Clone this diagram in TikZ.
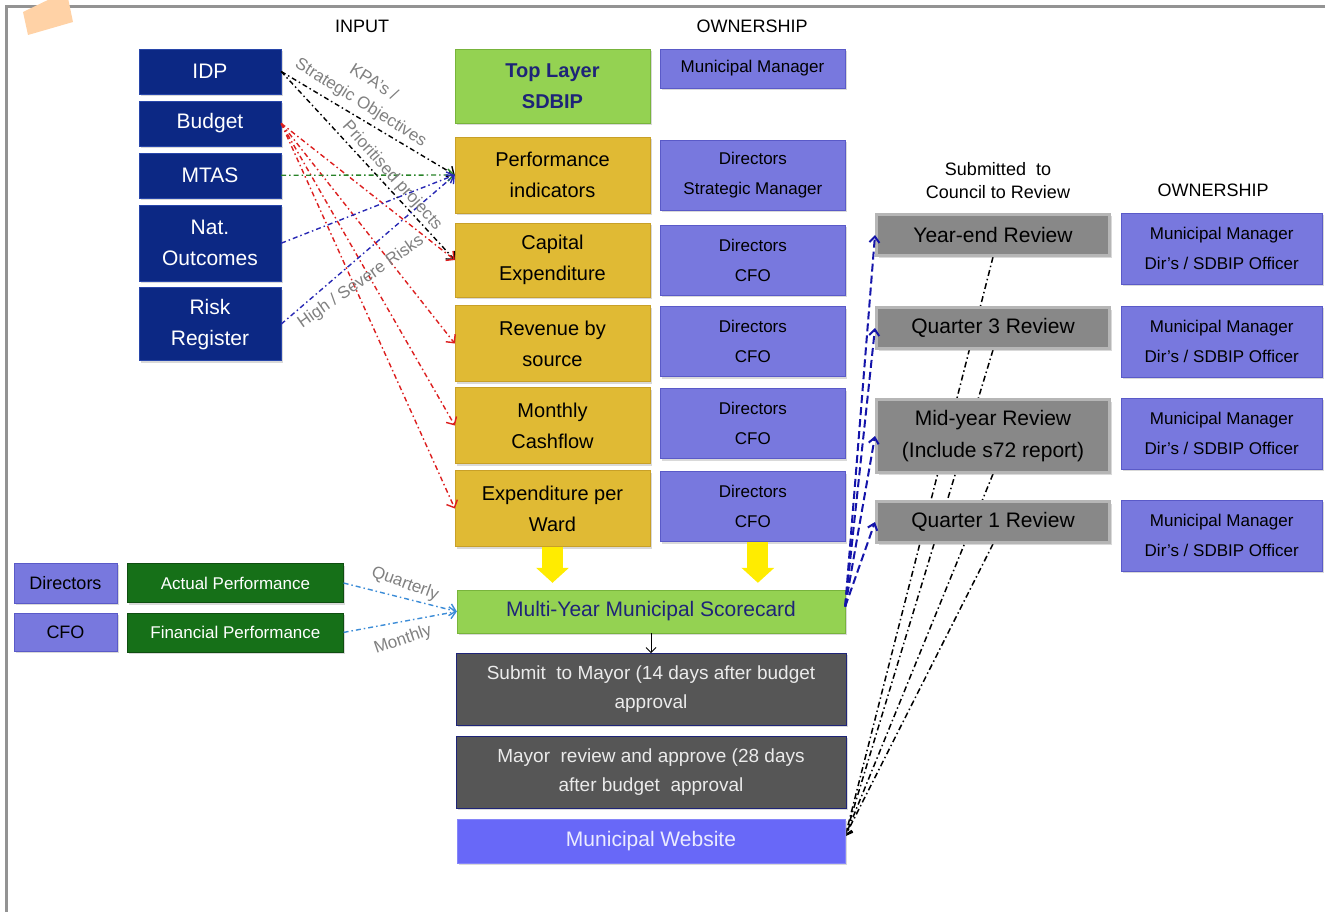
\documentclass[tikz,border=0pt]{standalone}
\usepackage{fontspec}
\setmainfont{Liberation Sans}
\usepackage{xcolor}
\usepackage{tikz}
\usetikzlibrary{positioning,arrows.meta,calc,shadows,backgrounds}
\newcommand{\pxfont}[2]{\fontsize{#1}{#2}\selectfont}

\definecolor{navybox}{RGB}{12,40,132}
\definecolor{navyedge}{RGB}{40,70,170}
\definecolor{goldbox}{RGB}{224,186,52}
\definecolor{goldedge}{RGB}{200,160,40}
\definecolor{ownfill}{RGB}{120,120,222}
\definecolor{ownedge}{RGB}{90,90,200}
\definecolor{limebox}{RGB}{148,210,82}
\definecolor{limeedge}{RGB}{120,180,60}
\definecolor{revfill}{RGB}{136,136,136}
\definecolor{revedge}{RGB}{182,182,182}
\definecolor{actgreen}{RGB}{22,112,24}
\definecolor{mayorgray}{RGB}{86,86,86}
\definecolor{webblue}{RGB}{104,104,248}
\definecolor{labgray}{RGB}{128,128,128}
\definecolor{textnavy}{RGB}{30,36,120}
\definecolor{arrred}{RGB}{220,30,30}
\definecolor{arrgreen}{RGB}{40,130,40}
\definecolor{arrblue}{RGB}{40,40,180}
\definecolor{arrlight}{RGB}{60,140,215}
\definecolor{revarr}{RGB}{20,20,170}
\definecolor{fatyellow}{RGB}{255,236,0}

\begin{document}
\begin{tikzpicture}[
    x=1pt, y=-1pt,
    node distance=7pt and 10pt,
    box/.style={align=center, inner sep=2pt, drop shadow={opacity=0.3, shadow xshift=2pt, shadow yshift=-2pt}},
    inbox/.style={box, fill=navybox, draw=navyedge, text=white, minimum width=142pt, minimum height=45pt, font=\pxfont{21}{31}},
    goldbx/.style={box, fill=goldbox, draw=goldedge, minimum width=195pt, minimum height=76pt, font=\pxfont{20}{31}},
    topbox/.style={box, fill=limebox, draw=limeedge, text=textnavy, minimum width=195pt, minimum height=74pt, font=\pxfont{20}{31}\bfseries},
    ownbox/.style={box, fill=ownfill, draw=ownedge, minimum width=185pt, minimum height=70pt, font=\pxfont{17}{30}},
    ownbox2/.style={box, fill=ownfill, draw=ownedge, minimum width=201pt, minimum height=71pt, font=\pxfont{17}{30}},
    revbox/.style={box, fill=revfill, draw=revedge, line width=3pt, minimum width=233pt, minimum height=41pt, font=\pxfont{21}{32}},
    actbox/.style={box, fill=actgreen, draw=actgreen!70!black, text=white, minimum width=216pt, minimum height=39pt, font=\pxfont{17}{22}},
    scorebox/.style={box, fill=limebox, draw=limeedge, text=textnavy, minimum width=388pt, minimum height=43pt, font=\pxfont{21}{26}},
    mayorbox/.style={box, fill=mayorgray, draw=textnavy, text=white!92!black, minimum width=390pt, minimum height=72pt, font=\pxfont{19}{29}},
    webbox/.style={box, fill=webblue, draw=webblue!80!white, text=white!92!blue, minimum width=388pt, minimum height=44pt, font=\pxfont{21}{26}},
    head/.style={align=center, font=\pxfont{18}{23}},
    lbl/.style={align=center, text=labgray, font=\pxfont{17}{24}},
    inarr/.style={-{Straight Barb[length=6pt,width=12pt]}, line width=1.4pt, dash pattern=on 5pt off 3pt on 1.5pt off 3pt},
    perfarr/.style={inarr, line width=1.4pt, arrlight},
    revarrow/.style={-{Straight Barb[length=6pt,width=10pt]}, line width=2pt, dash pattern=on 8pt off 4pt, revarr},
    webarr/.style={-{Straight Barb[length=6pt,width=10pt]}, line width=1.5pt, dash pattern=on 6pt off 3pt on 1.5pt off 3pt},
    fatarr/.style={-{Triangle[width=32pt,length=15pt]}, line width=21pt, fatyellow, shorten >=7pt},
    frame/.style={draw=gray!85, line width=3pt}
]
\useasboundingbox (0,0) rectangle (1325,912);

% frame and corner mark
\draw[frame] (6,912) -- (6,7) -- (1325,7);
\fill[orange!35] (23,12) -- (28,35) -- (73,22) -- (68,-2) -- (52,-2) -- cycle;

% Headings
\node[head] (hinput) at (362,26) {INPUT};
\node[head] (hown) at (752,26) {OWNERSHIP};
\node[head] (hcouncil) at (998,181) {Submitted~ to\\Council to Review};
\node[head] (hown2) at (1213,190) {OWNERSHIP};

% Input column
\node[inbox] (idp) at (210,71.5) {IDP};
\node[inbox, below=6.5pt of idp] (budget) {Budget};
\node[inbox, below=6.5pt of budget] (mtas) {MTAS};
\node[inbox, minimum height=76pt, below=7pt of mtas] (natout) {Nat.\\Outcomes};
\node[inbox, minimum height=73pt, below=6pt of natout] (risk) {Risk\\Register};

% SDBIP column
\node[topbox] (toplayer) at (552.5,86) {Top Layer\\SDBIP};
\node[goldbx] (perf) at (552.5,175) {Performance\\indicators};
\node[goldbx, minimum height=74pt] (capex) at (552.5,260) {Capital\\Expenditure};
\node[goldbx] (revenue) at (552.5,343.5) {Revenue by\\source};
\node[goldbx] (cashflow) at (552.5,425.5) {Monthly\\Cashflow};
\node[goldbx] (perward) at (552.5,508.5) {Expenditure per\\Ward};

% Ownership column
\node[ownbox, minimum height=39pt] (ownmm) at (752.5,68.5) {Municipal Manager};
\node[ownbox, right=10pt of perf] (ownperf) {Directors\\Strategic Manager};
\node[ownbox, right=10pt of capex] (owncap) {Directors\\CFO};
\node[ownbox, right=10pt of revenue, yshift=2pt] (ownrev) {Directors\\CFO};
\node[ownbox, right=10pt of cashflow, yshift=2pt] (owncash) {Directors\\CFO};
\node[ownbox, right=10pt of perward, yshift=2pt] (ownward) {Directors\\CFO};

% Scorecard and approval
\node[scorebox] (score) at (651,611.5) {Multi-Year Municipal Scorecard};
\node[mayorbox, below=20pt of score] (submit) {Submit~ to Mayor (14 days after budget\\approval};
\node[mayorbox, below=10pt of submit] (approve) {Mayor~ review and approve (28 days\\after budget~ approval};
\node[webbox, below=11pt of approve] (web) {Municipal Website};

% Actuals
\node[ownbox, minimum width=103pt, minimum height=40pt, font=\pxfont{18}{22}] (dirs) at (65.5,583) {Directors};
\node[ownbox, minimum width=103pt, minimum height=38pt, font=\pxfont{18}{22}, below=10pt of dirs] (cfo) {CFO};
\node[actbox, right=10pt of dirs] (actual) {Actual Performance};
\node[actbox, right=10pt of cfo] (financial) {Financial Performance};

% Council reviews
\node[revbox] (yearend) at (993,235) {Year-end Review};
\node[revbox] (q3) at (993,328) {Quarter 3 Review};
\node[revbox, minimum height=73pt] (midyear) at (993,436) {Mid-year Review\\(Include s72 report)};
\node[revbox] (q1) at (993,522) {Quarter 1 Review};
\node[ownbox2, below right=0pt and 10pt of yearend.north east] (ownye) {Municipal Manager\\Dir's / SDBIP Officer};
\node[ownbox2, below right=0pt and 10pt of q3.north east] (ownq3) {Municipal Manager\\Dir's / SDBIP Officer};
\node[ownbox2, below right=0pt and 10pt of midyear.north east] (ownmid) {Municipal Manager\\Dir's / SDBIP Officer};
\node[ownbox2, below right=0pt and 10pt of q1.north east] (ownq1) {Municipal Manager\\Dir's / SDBIP Officer};

% Reviews published on website
\begin{scope}[on background layer]
\draw[webarr] (yearend.south) -- ([yshift=5pt]web.east);
\draw[webarr] (q3.south) -- ([yshift=5pt]web.east);
\draw[webarr] (midyear.south) -- ([yshift=5pt]web.east);
\draw[webarr] (q1.south) -- ([yshift=5pt]web.east);
\end{scope}

% Inputs to SDBIP
\draw[inarr] (idp.east) -- (perf.west);
\draw[inarr] (idp.east) -- (capex.west);
\draw[inarr, arrred] (budget.east) -- (capex.west);
\draw[inarr, arrred] (budget.east) -- (revenue.west);
\draw[inarr, arrred] (budget.east) -- (cashflow.west);
\draw[inarr, arrred] (budget.east) -- (perward.west);
\draw[inarr, arrgreen] (mtas.east) -- (perf.west);
\draw[inarr, arrblue] (natout.east) -- (perf.west);
\draw[inarr, arrblue] (risk.east) -- (perf.west);

\node[lbl, rotate=-32] (lkpa) at (367,93) {KPA's /\\Strategic Objectives};
\node[lbl, rotate=-48] (lproj) at (392,176) {Prioritised projects};
\node[lbl, rotate=35] (lrisk) at (361,282) {High / Severe Risks};

% Into scorecard
\draw[fatarr] (perward.south) -- (perward.south |- score.north);
\draw[fatarr] ([xshift=5pt]ownward.south) -- ([xshift=5pt]ownward.south |- score.north);
\draw[perfarr] (actual.east) -- (score.west);
\draw[perfarr] (financial.east) -- (score.west);
\node[lbl, rotate=-20] (lquart) at (405,584) {Quarterly};
\node[lbl, rotate=19] (lmonth) at (403,640) {Monthly};
\draw[-{Straight Barb[length=5pt,width=10pt]}, line width=1pt] (score) -- (submit);

% Scorecard to council
\draw[revarrow] ([yshift=5pt]score.east) -- (yearend.west);
\draw[revarrow] ([yshift=5pt]score.east) -- (q3.west);
\draw[revarrow] ([yshift=5pt]score.east) -- (midyear.west);
\draw[revarrow] ([yshift=5pt]score.east) -- (q1.west);
\end{tikzpicture}
\end{document}
